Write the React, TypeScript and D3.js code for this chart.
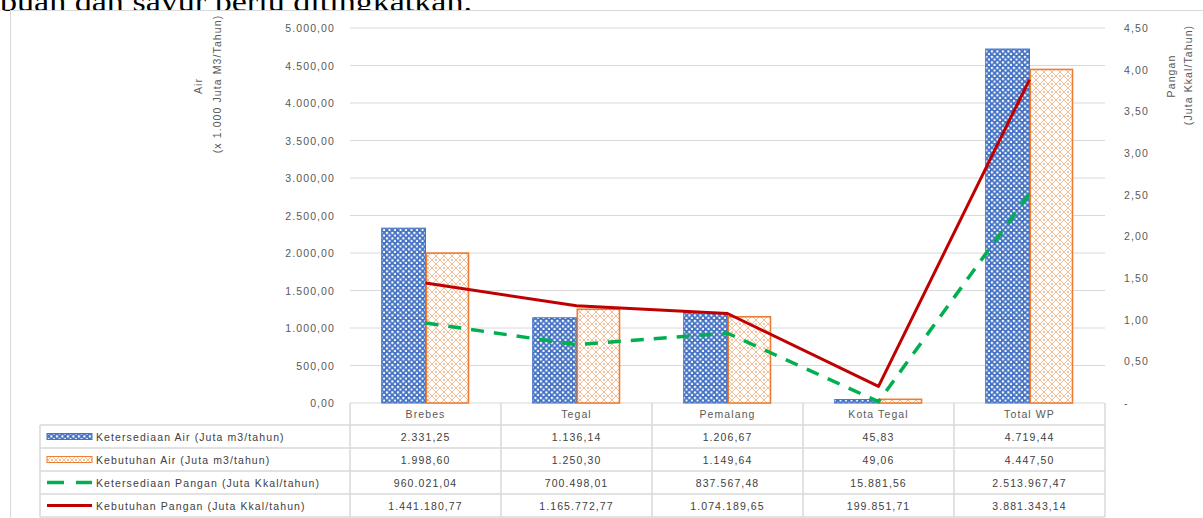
import React from "react";
import * as d3 from "d3";

const categories = ["Brebes", "Tegal", "Pemalang", "Kota Tegal", "Total WP"];
const ketersediaanAir = [2331.25, 1136.14, 1206.67, 45.83, 4719.44];
const kebutuhanAir = [1998.6, 1250.3, 1149.64, 49.06, 4447.5];
const ketersediaanPangan = [960021.04, 700498.01, 837567.48, 15881.56, 2513967.47];
const kebutuhanPangan = [1441180.77, 1165772.77, 1074189.65, 199851.71, 3881343.14];
const leftTicks = [0, 500, 1000, 1500, 2000, 2500, 3000, 3500, 4000, 4500, 5000];
const rightTicks = [0, 0.5, 1, 1.5, 2, 2.5, 3, 3.5, 4, 4.5];
const seriesNames = [
  "Ketersediaan Air (Juta m3/tahun)",
  "Kebutuhan Air (Juta m3/tahun)",
  "Ketersediaan Pangan (Juta Kkal/tahun)",
  "Kebutuhan Pangan (Juta Kkal/tahun)",
];

const fmt2 = (v: number) => {
  const s = v.toFixed(2);
  const [i, d] = s.split(".");
  return i.replace(/\B(?=(\d{3})+(?!\d))/g, ".") + "," + d;
};

export default function App() {
  const W = 1203, H = 518;
  const x0 = 350, x1 = 1105, yTop = 28, yBot = 403;
  const x = d3.scaleBand<string>().domain(categories).range([x0, x1]).padding(0);
  const yL = d3.scaleLinear().domain([0, 5000]).range([yBot, yTop]);
  const yR = d3.scaleLinear().domain([0, 4.5]).range([yBot, yTop]);
  const bw = x.bandwidth();
  const barW = bw * 0.29;
  const cx = (c: string) => (x(c) as number) + bw / 2;

  const lineGen = d3
    .line<number>()
    .x((_, i) => cx(categories[i]))
    .y((v) => yR(v / 1e6));

  const font = "'Liberation Sans', Arial, sans-serif";
  const fs = 10.5;
  const ls = 1.1;
  const txt = "#595959";
  const grid = "#d9d9d9";
  const rowY = [403, 425, 448, 471, 494, 517];
  const tableRows = [ketersediaanAir, kebutuhanAir, ketersediaanPangan, kebutuhanPangan];

  return (
    <svg
      width={W}
      height={H}
      style={{ position: "absolute", left: 0, top: 0, background: "#fff" }}
    >
      <defs>
        <pattern id="bluePat" width="5.5" height="5.5" patternUnits="userSpaceOnUse">
          <rect width="5.5" height="5.5" fill="#4472C4" />
          <rect x="0.8" y="0.8" width="2.2" height="2.2" fill="#fff" />
          <rect x="3.55" y="3.55" width="2.2" height="2.2" fill="#fff" />
        </pattern>
        <pattern id="orangePat" width="8" height="8" patternUnits="userSpaceOnUse">
          <rect width="8" height="8" fill="#fff" />
          <path d="M0 4 L4 0 L8 4 L4 8 Z" fill="none" stroke="#ED7D31" strokeWidth="1" opacity="0.5" />
          <rect x="3" y="3" width="2" height="2" fill="#ED7D31" opacity="0.45" />
        </pattern>
      </defs>

      {/* document text above */}
      <text x={0} y={11} fontFamily="'Liberation Serif', 'DejaVu Serif', serif" fontSize={28} fill="#000" textLength={472} lengthAdjust="spacingAndGlyphs">
        buah dan sayur perlu ditingkatkan.
      </text>

      {/* chart frame */}
      <rect x={10.5} y={10.5} width={1220} height={540} fill="#fff" stroke="#d9d9d9" />

      {/* gridlines */}
      {leftTicks.map((t) => (
        <line key={"g" + t} x1={x0} x2={x1} y1={yL(t)} y2={yL(t)} stroke={grid} strokeWidth={1} />
      ))}

      {/* left ticks */}
      {leftTicks.map((t) => (
        <text key={"l" + t} x={335} y={yL(t) + 4} textAnchor="end" fontFamily={font} fontSize={fs} letterSpacing={ls} fill={txt}>
          {fmt2(t)}
        </text>
      ))}
      {/* right ticks */}
      {rightTicks.map((t) => (
        <text key={"r" + t} x={1124} y={yR(t) + 4} textAnchor="start" fontFamily={font} fontSize={fs} letterSpacing={ls} fill={txt}>
          {t === 0 ? "-" : t.toFixed(2).replace(".", ",")}
        </text>
      ))}

      {/* axis titles */}
      <g transform="translate(202,86) rotate(-90)">
        <text textAnchor="middle" fontFamily={font} fontSize={fs} letterSpacing={ls} fill={txt}>Air</text>
      </g>
      <g transform="translate(221,84) rotate(-90)">
        <text textAnchor="middle" fontFamily={font} fontSize={fs} letterSpacing={ls} fill={txt}>(x 1.000 Juta M3/Tahun)</text>
      </g>
      <g transform="translate(1175,76) rotate(-90)">
        <text textAnchor="middle" fontFamily={font} fontSize={fs} letterSpacing={ls} fill={txt}>Pangan</text>
      </g>
      <g transform="translate(1192,75) rotate(-90)">
        <text textAnchor="middle" fontFamily={font} fontSize={fs} letterSpacing={ls} fill={txt}>(Juta Kkal/Tahun)</text>
      </g>

      {/* bars */}
      {categories.map((c, i) => (
        <g key={"b" + c}>
          <rect
            x={cx(c) - barW}
            y={yL(ketersediaanAir[i])}
            width={barW}
            height={yBot - yL(ketersediaanAir[i])}
            fill="url(#bluePat)"
            stroke="#4472C4"
            strokeWidth={1}
          />
          <rect
            x={cx(c) + 0.8}
            y={yL(kebutuhanAir[i])}
            width={barW - 1.6}
            height={yBot - yL(kebutuhanAir[i])}
            fill="url(#orangePat)"
            stroke="#ED7D31"
            strokeWidth={1.6}
          />
        </g>
      ))}

      {/* lines */}
      <path d={lineGen(ketersediaanPangan) || ""} fill="none" stroke="#00B050" strokeWidth={3.5} strokeDasharray="13 10" />
      <path d={lineGen(kebutuhanPangan) || ""} fill="none" stroke="#C00000" strokeWidth={3} strokeLinejoin="round" />

      {/* data table */}
      {[x0, ...categories.map((c) => (x(c) as number) + bw)].map((vx, i) => (
        <line key={"v" + i} x1={vx} x2={vx} y1={yBot} y2={517} stroke={grid} strokeWidth={1.5} />
      ))}
      <line x1={40} x2={40} y1={425} y2={517} stroke={grid} strokeWidth={1.5} />
      {rowY.slice(1).map((ry) => (
        <line key={"h" + ry} x1={40} x2={x1} y1={ry} y2={ry} stroke={grid} strokeWidth={1.5} />
      ))}
      {categories.map((c) => (
        <text key={"c" + c} x={cx(c)} y={418} textAnchor="middle" fontFamily={font} fontSize={fs} letterSpacing={ls} fill={txt}>
          {c}
        </text>
      ))}
      {tableRows.map((row, r) =>
        row.map((v, i) => (
          <text
            key={"t" + r + "-" + i}
            x={cx(categories[i])}
            y={(rowY[r + 1] + rowY[r + 2]) / 2 + 4}
            textAnchor="middle"
            fontFamily={font}
            fontSize={fs}
            letterSpacing={ls}
            fill="#404040"
          >
            {fmt2(v)}
          </text>
        ))
      )}

      {/* legend keys */}
      {seriesNames.map((n, r) => {
        const my = (rowY[r + 1] + rowY[r + 2]) / 2;
        return (
          <g key={"k" + r}>
            {r === 0 && <rect x={47} y={my - 3} width={45} height={6} fill="url(#bluePat)" stroke="#4472C4" />}
            {r === 1 && <rect x={47} y={my - 3} width={45} height={6} fill="url(#orangePat)" stroke="#ED7D31" />}
            {r === 2 && <line x1={47} x2={92} y1={my} y2={my} stroke="#00B050" strokeWidth={3.5} strokeDasharray="17 12" />}
            {r === 3 && <line x1={47} x2={92} y1={my} y2={my} stroke="#C00000" strokeWidth={3} />}
            <text x={96} y={my + 4} fontFamily={font} fontSize={fs} letterSpacing={ls} fill="#404040">
              {n}
            </text>
          </g>
        );
      })}
    </svg>
  );
}
